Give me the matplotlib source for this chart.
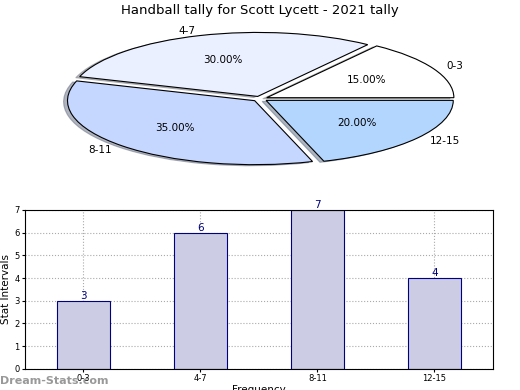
import matplotlib.pyplot as plt

categories = ['0-3', '4-7', '8-11', '12-15']
counts = [3, 6, 7, 4]
slice_colors = ['#ffffff', '#eaf0ff', '#c5d6ff', '#b3d6ff']

fig = plt.figure(figsize=(5.2, 3.9), dpi=100)

# pie on top, squashed into an ellipse
ax1 = fig.add_axes([0.104, 0.566, 0.792, 0.361])
wedges, texts, autotexts = ax1.pie(counts, labels=categories, colors=slice_colors,
                                   autopct='%.2f%%', startangle=0, counterclock=True,
                                   explode=[0.04] * 4,
                                   shadow={'ox': -0.015, 'oy': -0.012, 'shade': 0.5},
                                   labeldistance=1.08, pctdistance=0.6,
                                   wedgeprops={'edgecolor': 'black', 'linewidth': 0.8},
                                   textprops={'fontsize': 7.5})
ax1.set_aspect('auto')
ax1.set_xlim(-1.1, 1.1)
ax1.set_ylim(-1.1, 1.1)
fig.text(0.5, 0.972, 'Handball tally for Scott Lycett - 2021 tally', ha='center', va='center',
         fontsize=9.5)

# bar chart below
ax2 = fig.add_axes([0.048, 0.054, 0.9, 0.408])
x = range(len(categories))
ax2.bar(x, counts, width=0.45, color='#ccccE5', edgecolor='#000080', linewidth=0.8, zorder=2)
for i, v in enumerate(counts):
    ax2.text(i, v, str(v), ha='center', va='bottom', color='#000080', fontsize=7.5)
ax2.set_xlim(-0.5, 3.5)
ax2.set_ylim(0, 7)
ax2.set_xticks(list(x))
ax2.set_xticklabels(categories)
ax2.tick_params(labelsize=6, length=2, pad=2)
ax2.grid(True, linestyle=':', color='#aaaaaa', linewidth=0.8, zorder=0)
ax2.set_ylabel('Stat Intervals', fontsize=7.5, labelpad=2)
ax2.set_xlabel('Frequency', fontsize=7.5, labelpad=1)

fig.text(0.0, 0.022, 'Dream-Stats.com', fontsize=8, fontweight='bold', color='#999999',
         ha='left', va='center')

fig.savefig('out.png')
